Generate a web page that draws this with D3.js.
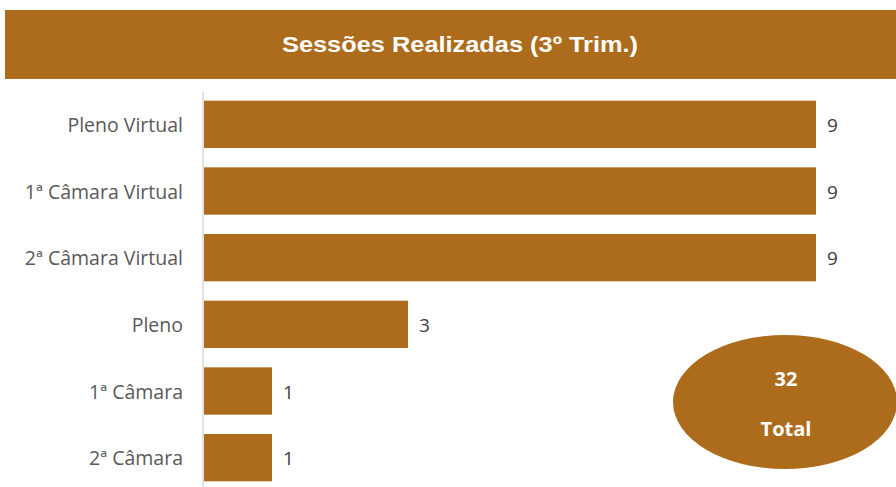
<!doctype html>
<html>
<head>
	<meta charset="utf-8">
	<script src="https://d3js.org/d3.v7.min.js"></script>
	<style>
	body { margin: 0; background: #fff; }
	svg text { font-family: "Open Sans", "Liberation Sans", sans-serif; }
	</style>
</head>
<body>
<script>

	// data
	var categories = ["Pleno Virtual", "1ª Câmara Virtual", "2ª Câmara Virtual", "Pleno", "1ª Câmara", "2ª Câmara"];
	var sessions = [9, 9, 9, 3, 1, 1];
	var titleText = "Sessões Realizadas (3º Trim.)";
	var totalLabel = "Total";

	var W = 896, H = 487;
	var brown = "#AD6C1B";

	var svg = d3.select("body").append("svg")
		.attr("width", W)
		.attr("height", H);

	// title banner
	svg.append("rect")
		.attr("x", 5).attr("y", 10)
		.attr("width", W).attr("height", 69)
		.attr("fill", brown);

	svg.append("text")
		.attr("x", 282).attr("y", 52)
		.attr("fill", "#fff")
		.attr("font-size", 22)
		.attr("font-weight", "bold")
		.attr("textLength", 356)
		.attr("lengthAdjust", "spacingAndGlyphs")
		.style("font-family", "'Liberation Sans', Arial, sans-serif")
		.text(titleText);

	// scales
	var xScale = d3.scaleLinear()
		.domain([0, 9])
		.range([204, 816]);

	var yScale = d3.scaleBand()
		.domain(categories)
		.range([91, 491])
		.paddingInner(0.29)
		.paddingOuter(0.145);

	// y axis: only the line and the labels
	var yAxis = d3.axisLeft(yScale).tickSize(0).tickPadding(20);
	var ax = svg.append("g")
		.attr("transform", "translate(203,0)")
		.call(yAxis);
	ax.select(".domain").attr("stroke", "#d9d9d9").attr("stroke-width", 1.5)
		.attr("d", "M0,92V487");
	ax.selectAll("text")
		.attr("fill", "#595959")
		.attr("font-size", 19.5)
		.attr("dy", "0.4em")
		.style("font-family", "'Open Sans', sans-serif");

	// bars
	svg.selectAll(".bar")
		.data(sessions)
		.enter().append("rect")
		.attr("class", "bar")
		.attr("x", xScale(0))
		.attr("y", function(d, i) { return yScale(categories[i]); })
		.attr("width", function(d) { return xScale(d) - xScale(0); })
		.attr("height", yScale.bandwidth())
		.attr("fill", brown);

	// value labels
	svg.selectAll(".val")
		.data(sessions)
		.enter().append("text")
		.attr("class", "val")
		.attr("x", function(d) { return xScale(d) + 11; })
		.attr("y", function(d, i) { return yScale(categories[i]) + yScale.bandwidth() / 2; })
		.attr("dy", "0.4em")
		.attr("fill", "#404040")
		.attr("font-size", 19)
		.text(function(d) { return d; });

	// total bubble
	var total = d3.sum(sessions);
	svg.append("ellipse")
		.attr("cx", 785).attr("cy", 402)
		.attr("rx", 112).attr("ry", 67)
		.attr("fill", brown);

	svg.append("text")
		.attr("x", 786).attr("y", 386)
		.attr("text-anchor", "middle")
		.attr("fill", "#fff")
		.attr("font-size", 20)
		.attr("font-weight", "bold")
		.text(total);

	svg.append("text")
		.attr("x", 786).attr("y", 436)
		.attr("text-anchor", "middle")
		.attr("fill", "#fff")
		.attr("font-size", 20)
		.attr("font-weight", "bold")
		.text(totalLabel);

</script>
</body>
</html>
